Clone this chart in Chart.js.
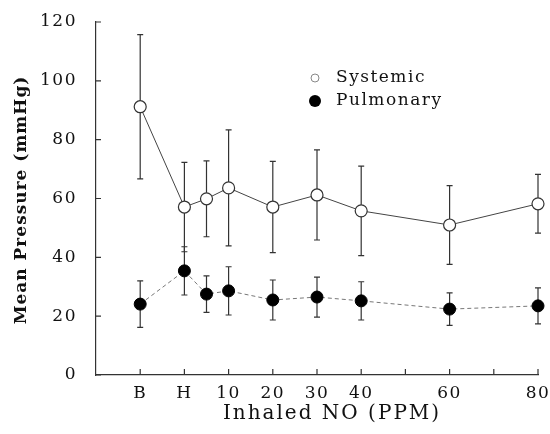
<!DOCTYPE html>
<html>
<head>
<meta charset="utf-8">
<script src="https://cdn.jsdelivr.net/npm/chart.js@4.4.0/dist/chart.umd.min.js"></script>
<style>
  html, body { margin: 0; padding: 0; background: #fff; }
  #wrap { width: 550px; height: 434px; }
</style>
</head>
<body>
<div id="wrap"><canvas id="chart" width="550" height="434"></canvas></div>
<script>
// x positions: B = -10, H = 0, then ppm
const doses = [-10, 0, 5, 10, 20, 30, 40, 60, 80];
const xTickValues = [-10, 0, 10, 20, 30, 40, 50, 60, 70, 80];
const xTickLabels = { "-10": "B", "0": "H", "10": "10", "20": "20", "30": "30", "40": "40", "60": "60", "80": "80" };

const systemicMean = [91.2, 57.1, 59.9, 63.6, 57.1, 61.2, 55.8, 51.0, 58.2];
const systemicErr = [24.5, 15.2, 12.9, 19.7, 15.5, 15.3, 15.2, 13.4, 10.0];
const pulmonaryMean = [24.1, 35.4, 27.5, 28.6, 25.5, 26.5, 25.2, 22.4, 23.5];
const pulmonaryErr = [7.9, 8.2, 6.2, 8.2, 6.8, 6.8, 6.5, 5.5, 6.1];

const serif = "'DejaVu Serif', 'Liberation Serif', serif";

// wider spacing for the tick labels, like the scanned figure
const spacing = {
  id: "spacing",
  beforeDraw(chart) {
    chart.ctx.letterSpacing = "1.5px";
  }
};

const errorBars = {
  id: "errorBars",
  beforeDatasetsDraw(chart) {
    const ctx = chart.ctx;
    const x = chart.scales.x, y = chart.scales.y;
    const sets = [[systemicMean, systemicErr], [pulmonaryMean, pulmonaryErr]];
    ctx.save();
    ctx.strokeStyle = "#333";
    ctx.lineWidth = 1.2;
    sets.forEach(([mean, err]) => {
      mean.forEach((m, i) => {
        const px = x.getPixelForValue(doses[i]);
        const top = y.getPixelForValue(m + err[i]);
        const bot = y.getPixelForValue(m - err[i]);
        ctx.beginPath();
        ctx.moveTo(px, top); ctx.lineTo(px, bot);
        ctx.moveTo(px - 3, top); ctx.lineTo(px + 3, top);
        ctx.moveTo(px - 3, bot); ctx.lineTo(px + 3, bot);
        ctx.stroke();
      });
    });
    ctx.restore();
  }
};

const extras = {
  id: "extras",
  afterDraw(chart) {
    const ctx = chart.ctx;
    const x = chart.scales.x, y = chart.scales.y;
    const a = chart.chartArea;
    ctx.save();
    ctx.strokeStyle = "#333";
    ctx.lineWidth = 1.2;
    // inward ticks
    ctx.beginPath();
    y.ticks.forEach(t => {
      const py = y.getPixelForValue(t.value);
      ctx.moveTo(a.left, py); ctx.lineTo(a.left + 5, py);
    });
    x.ticks.forEach(t => {
      const px = x.getPixelForValue(t.value);
      ctx.moveTo(px, a.bottom); ctx.lineTo(px, a.bottom - 6);
    });
    ctx.stroke();
    // legend
    ctx.fillStyle = "#111";
    ctx.font = "17px " + serif;
    ctx.letterSpacing = "1.5px";
    ctx.textBaseline = "middle";
    ctx.fillText("Systemic", 336, 78);
    ctx.fillText("Pulmonary", 336, 101);
    ctx.beginPath();
    ctx.arc(315, 78, 4, 0, Math.PI * 2);
    ctx.fillStyle = "#fff"; ctx.fill();
    ctx.strokeStyle = "#888"; ctx.lineWidth = 1; ctx.stroke();
    ctx.beginPath();
    ctx.arc(315, 101, 6, 0, Math.PI * 2);
    ctx.fillStyle = "#000"; ctx.fill();
    // axis titles
    ctx.fillStyle = "#111";
    ctx.textAlign = "center";
    ctx.font = "20px " + serif;
    ctx.letterSpacing = "2px";
    ctx.fillText("Inhaled NO (PPM)", 332, 414);
    ctx.translate(22, 200);
    ctx.rotate(-Math.PI / 2);
    ctx.font = "bold 17px " + serif;
    ctx.letterSpacing = "1px";
    ctx.fillText("Mean Pressure (mmHg)", 0, 0);
    ctx.restore();
  }
};

new Chart(document.getElementById("chart"), {
  type: "line",
  data: {
    datasets: [
      {
        label: "Systemic",
        data: doses.map((d, i) => ({ x: d, y: systemicMean[i] })),
        borderColor: "#444",
        borderWidth: 1,
        pointRadius: 6,
        pointBackgroundColor: "#fff",
        pointBorderColor: "#333",
        pointBorderWidth: 1.2,
        tension: 0
      },
      {
        label: "Pulmonary",
        data: doses.map((d, i) => ({ x: d, y: pulmonaryMean[i] })),
        borderColor: "#777",
        borderWidth: 1,
        borderDash: [4, 3],
        pointRadius: 6,
        pointBackgroundColor: "#000",
        pointBorderColor: "#000",
        pointBorderWidth: 1,
        tension: 0
      }
    ]
  },
  options: {
    responsive: false,
    animation: false,
    clip: false,
    layout: { padding: { top: 22, right: 12, left: 0, bottom: 0 } },
    plugins: { legend: { display: false }, tooltip: { enabled: false } },
    scales: {
      x: {
        type: "linear",
        min: -20,
        max: 80,
        afterBuildTicks: s => { s.ticks = xTickValues.map(v => ({ value: v })); },
        afterFit: s => { s.height = 59; s.paddingLeft = 0; s.paddingRight = 0; },
        grid: { display: false },
        border: { color: "#333", width: 1.2 },
        ticks: {
          callback: v => xTickLabels[String(v)] || "",
          color: "#111",
          padding: 0,
          maxRotation: 0,
          autoSkip: false,
          font: { family: serif, size: 17 }
        }
      },
      y: {
        min: 0,
        max: 120,
        afterFit: s => { s.width = 96; s.paddingTop = 0; s.paddingBottom = 0; },
        grid: { display: false },
        border: { color: "#333", width: 1.2 },
        ticks: {
          stepSize: 20,
          color: "#111",
          padding: 11,
          font: { family: serif, size: 17 }
        }
      }
    }
  },
  plugins: [spacing, errorBars, extras]
});
</script>
</body>
</html>
